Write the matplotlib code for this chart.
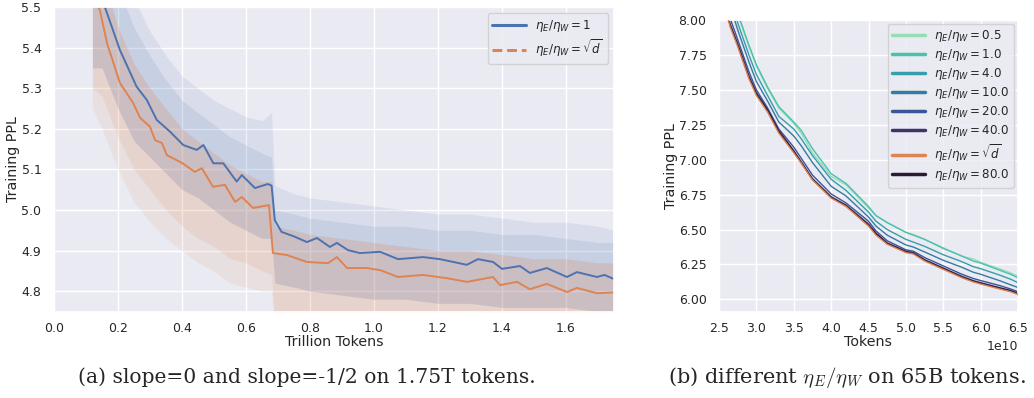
import matplotlib
matplotlib.use("Agg")
import matplotlib.pyplot as plt
from matplotlib.lines import Line2D
import seaborn as sns

sns.set_theme(style="darkgrid")
plt.rcParams["font.family"] = ["DejaVu Sans"]
plt.rcParams["mathtext.fontset"] = "dejavusans"

# ---------------- (a) data: Trillion tokens vs training PPL ----------------
blue_x = [0.13, 0.159, 0.206, 0.258, 0.29, 0.321, 0.3625, 0.404, 0.446, 0.467, 0.498,
          0.529, 0.571, 0.587, 0.628, 0.668, 0.68, 0.69, 0.711, 0.75, 0.79, 0.822, 0.862,
          0.884, 0.919, 0.956, 1.019, 1.075, 1.153, 1.206, 1.29, 1.325, 1.372, 1.40,
          1.456, 1.487, 1.54, 1.603, 1.634, 1.697, 1.72, 1.75]
blue_y = [5.56, 5.50, 5.394, 5.304, 5.271, 5.222, 5.193, 5.16, 5.148, 5.16, 5.115,
          5.115, 5.07, 5.086, 5.054, 5.064, 5.06, 4.975, 4.946, 4.935, 4.921, 4.931, 4.909,
          4.919, 4.901, 4.894, 4.897, 4.879, 4.884, 4.879, 4.865, 4.879, 4.872, 4.855,
          4.862, 4.845, 4.857, 4.835, 4.847, 4.835, 4.84, 4.83]

orange_x = [0.13, 0.144, 0.166, 0.206, 0.247, 0.269, 0.30, 0.316, 0.337, 0.353, 0.40,
            0.44, 0.462, 0.497, 0.534, 0.566, 0.587, 0.622, 0.672, 0.684, 0.728, 0.79,
            0.856, 0.884, 0.916, 0.978, 1.019, 1.075, 1.153, 1.228, 1.29, 1.372, 1.394,
            1.447, 1.487, 1.54, 1.603, 1.634, 1.697, 1.75]
orange_y = [5.52, 5.49, 5.41, 5.313, 5.264, 5.227, 5.205, 5.172, 5.165, 5.135, 5.116,
            5.094, 5.103, 5.057, 5.062, 5.02, 5.032, 5.005, 5.012, 4.894, 4.889, 4.872,
            4.869, 4.884, 4.857, 4.857, 4.852, 4.835, 4.84, 4.832, 4.823, 4.835, 4.815,
            4.823, 4.805, 4.818, 4.798, 4.808, 4.795, 4.797]

# raw (unsmoothed) loss spread, read as envelopes
band_x = [0.12, 0.15, 0.2, 0.25, 0.3, 0.35, 0.4, 0.45, 0.5, 0.55, 0.6, 0.65, 0.68,
          0.69, 0.75, 0.8, 0.9, 1.0, 1.1, 1.2, 1.3, 1.4, 1.5, 1.6, 1.7, 1.75]
blue_hi = [5.6, 5.6, 5.55, 5.45, 5.38, 5.32, 5.27, 5.24, 5.21, 5.18, 5.16, 5.14, 5.13,
           5.00, 4.99, 4.98, 4.97, 4.96, 4.96, 4.95, 4.95, 4.94, 4.94, 4.93, 4.92, 4.92]
blue_lo = [5.35, 5.35, 5.25, 5.17, 5.13, 5.09, 5.05, 5.03, 5.00, 4.97, 4.95, 4.93, 4.93,
           4.82, 4.81, 4.80, 4.79, 4.78, 4.78, 4.77, 4.77, 4.76, 4.76, 4.76, 4.75, 4.75]
blue_spike = [5.6, 5.6, 5.6, 5.52, 5.44, 5.38, 5.33, 5.30, 5.27, 5.25, 5.23, 5.22, 5.24,
              5.06, 5.04, 5.03, 5.02, 5.01, 5.00, 4.99, 4.99, 4.98, 4.97, 4.97, 4.96, 4.95]
orange_hi = [5.6, 5.58, 5.45, 5.36, 5.30, 5.25, 5.20, 5.17, 5.14, 5.11, 5.09, 5.07, 5.07,
             4.96, 4.95, 4.94, 4.93, 4.92, 4.91, 4.90, 4.90, 4.89, 4.88, 4.88, 4.87, 4.87]
orange_lo = [5.30, 5.28, 5.18, 5.10, 5.05, 5.00, 4.96, 4.93, 4.91, 4.88, 4.87, 4.85, 4.84,
             4.72, 4.71, 4.70, 4.70, 4.69, 4.69, 4.68, 4.68, 4.68, 4.67, 4.67, 4.67, 4.67]
orange_spike = [5.25, 5.2, 5.10, 5.02, 4.97, 4.93, 4.90, 4.87, 4.85, 4.82, 4.81, 4.80,
                4.80, 4.65, 4.64, 4.63, 4.62, 4.62, 4.61, 4.61, 4.60, 4.60, 4.60, 4.60,
                4.60, 4.60]

labels_a = [r"$\eta_E/\eta_W=1$", r"$\eta_E/\eta_W=\sqrt{d}$"]
xticks_a = [0.0, 0.2, 0.4, 0.6, 0.8, 1.0, 1.2, 1.4, 1.6]
yticks_a = [4.8, 4.9, 5.0, 5.1, 5.2, 5.3, 5.4, 5.5]

# ---------------- (b) data: tokens vs training PPL ----------------
tok = [2.55e10, 2.65e10, 2.75e10, 2.9e10, 3.0e10, 3.15e10, 3.3e10, 3.5e10, 3.6e10,
       3.75e10, 4.0e10, 4.2e10, 4.5e10, 4.6e10, 4.75e10, 5.0e10, 5.1e10, 5.25e10,
       5.5e10, 5.75e10, 5.9e10, 6.0e10, 6.25e10, 6.4e10, 6.5e10]
ppl_05 = [8.45, 8.24, 8.04, 7.81, 7.67, 7.51, 7.37, 7.26, 7.19, 7.05, 6.88, 6.82, 6.655,
          6.60, 6.55, 6.48, 6.465, 6.43, 6.37, 6.31, 6.29, 6.265, 6.22, 6.19, 6.165]
ppl_1 = [8.45, 8.25, 8.05, 7.82, 7.68, 7.52, 7.38, 7.27, 7.21, 7.08, 6.90, 6.83, 6.665,
         6.60, 6.55, 6.48, 6.46, 6.43, 6.365, 6.31, 6.275, 6.26, 6.21, 6.18, 6.155]
ppl_4 = [8.38, 8.17, 7.98, 7.75, 7.61, 7.46, 7.31, 7.22, 7.15, 7.03, 6.86, 6.78, 6.625,
         6.56, 6.50, 6.43, 6.41, 6.38, 6.32, 6.27, 6.235, 6.22, 6.175, 6.145, 6.12]
ppl_10 = [8.30, 8.10, 7.93, 7.70, 7.56, 7.42, 7.27, 7.17, 7.10, 6.98, 6.81, 6.74, 6.59,
          6.525, 6.46, 6.39, 6.375, 6.34, 6.28, 6.23, 6.195, 6.18, 6.135, 6.105, 6.085]
ppl_20 = [8.20, 8.01, 7.86, 7.63, 7.50, 7.37, 7.22, 7.09, 7.01, 6.89, 6.755, 6.69, 6.56,
          6.49, 6.42, 6.355, 6.345, 6.30, 6.24, 6.18, 6.15, 6.135, 6.10, 6.075, 6.055]
ppl_40 = [8.16, 7.97, 7.83, 7.60, 7.48, 7.36, 7.21, 7.065, 6.985, 6.865, 6.735, 6.675,
          6.54, 6.475, 6.405, 6.345, 6.335, 6.285, 6.225, 6.165, 6.135, 6.12, 6.085,
          6.065, 6.045]
ppl_sqrtd = [8.14, 7.95, 7.81, 7.58, 7.46, 7.34, 7.19, 7.05, 6.975, 6.855, 6.725, 6.665,
             6.525, 6.46, 6.395, 6.335, 6.325, 6.275, 6.215, 6.155, 6.125, 6.11, 6.075,
             6.055, 6.035]
ppl_80 = [8.15, 7.96, 7.82, 7.59, 7.47, 7.35, 7.20, 7.06, 6.98, 6.86, 6.73, 6.67, 6.53,
          6.47, 6.40, 6.34, 6.33, 6.28, 6.22, 6.16, 6.13, 6.115, 6.08, 6.06, 6.04]
ratio_labels = ["0.5", "1.0", "4.0", "10.0", "20.0", "40.0", r"\sqrt{d}", "80.0"]
yticks_b = [6.00, 6.25, 6.50, 6.75, 7.00, 7.25, 7.50, 7.75, 8.00]
xticks_b = [2.5e10, 3.0e10, 3.5e10, 4.0e10, 4.5e10, 5.0e10, 5.5e10, 6.0e10, 6.5e10]

# ---------------- figure ----------------
W, H = 1034, 398
fig = plt.figure(figsize=(W / 100, H / 100), dpi=100)

def box(l, t, r, b):
    return [l / W, 1 - b / H, (r - l) / W, (b - t) / H]

blue = "#4C72B0"
orange = "#DD8452"
tick_fs = 9
lab_fs = 10.3
leg_fs = 8.6

ax1 = fig.add_axes(box(54, 7, 614, 311.5))
ax1.fill_between(band_x, blue_hi, blue_spike, color=blue, alpha=0.10, lw=0)
ax1.fill_between(band_x, blue_lo, blue_hi, color=blue, alpha=0.22, lw=0)
ax1.fill_between(band_x, orange_spike, orange_lo, color=orange, alpha=0.10, lw=0)
ax1.fill_between(band_x, orange_lo, orange_hi, color=orange, alpha=0.22, lw=0)
ax1.plot(blue_x, blue_y, color=blue, lw=1.4)
ax1.plot(orange_x, orange_y, color=orange, lw=1.4)
ax1.set_xlim(0, 1.75)
ax1.set_ylim(4.75, 5.5)
ax1.set_xticks(xticks_a)
ax1.set_yticks(yticks_a)
ax1.tick_params(axis="x", labelsize=tick_fs, pad=1.5)
ax1.tick_params(axis="y", labelsize=tick_fs, pad=3)
ax1.set_xlabel("Trillion Tokens", fontsize=lab_fs, labelpad=0)
ax1.set_ylabel("Training PPL", fontsize=lab_fs, labelpad=1)
handles_a = [Line2D([], [], color=blue, lw=2.2, ls="-"),
             Line2D([], [], color=orange, lw=2.2, ls=(0, (3.2, 1.6)))]
ax1.legend(handles_a, labels_a, loc="upper right", fontsize=leg_fs, handlelength=2.8,
           borderaxespad=0.5, labelspacing=0.3)

ax2 = fig.add_axes(box(719, 20, 1018, 312))
colors = list(sns.color_palette("mako_r", 7))
series = [ppl_05, ppl_1, ppl_4, ppl_10, ppl_20, ppl_40, ppl_sqrtd, ppl_80]
line_colors = colors[:6] + [orange] + [colors[6]]
zorders = [2, 2, 2, 2, 2, 2, 3, 2.5]
for vals, c, lab, z in zip(series, line_colors, ratio_labels, zorders):
    ax2.plot(tok, vals, color=c, lw=1.0, zorder=z, label=r"$\eta_E/\eta_W=%s$" % lab)
ax2.set_xlim(2.5e10, 6.5e10)
ax2.set_ylim(5.91, 8.0)
ax2.set_xticks(xticks_b)
ax2.set_yticks(yticks_b)
ax2.yaxis.set_major_formatter(matplotlib.ticker.FormatStrFormatter("%.2f"))
ax2.tick_params(axis="x", labelsize=tick_fs, pad=1.5)
ax2.tick_params(axis="y", labelsize=tick_fs, pad=3)
ax2.xaxis.get_offset_text().set_fontsize(tick_fs)
ax2.set_xlabel("Tokens", fontsize=lab_fs, labelpad=0)
ax2.set_ylabel("Training PPL", fontsize=lab_fs, labelpad=0)
leg2 = ax2.legend(loc="upper right", fontsize=leg_fs, handlelength=2.7, borderaxespad=0.3,
                  labelspacing=0.25)
for ln in leg2.get_lines():
    ln.set_linewidth(2.5)

fig.text(307 / W, 1 - 377 / H, "(a) slope=0 and slope=-1/2 on 1.75T tokens.",
         ha="center", va="center", fontsize=14.6, family="DejaVu Serif")
fig.text(847 / W, 1 - 377 / H, r"(b) different $\eta_E/\eta_W$ on 65B tokens.",
         ha="center", va="center", fontsize=15, family="DejaVu Serif",
         math_fontfamily="cm")

fig.savefig("out.png", dpi=100)
